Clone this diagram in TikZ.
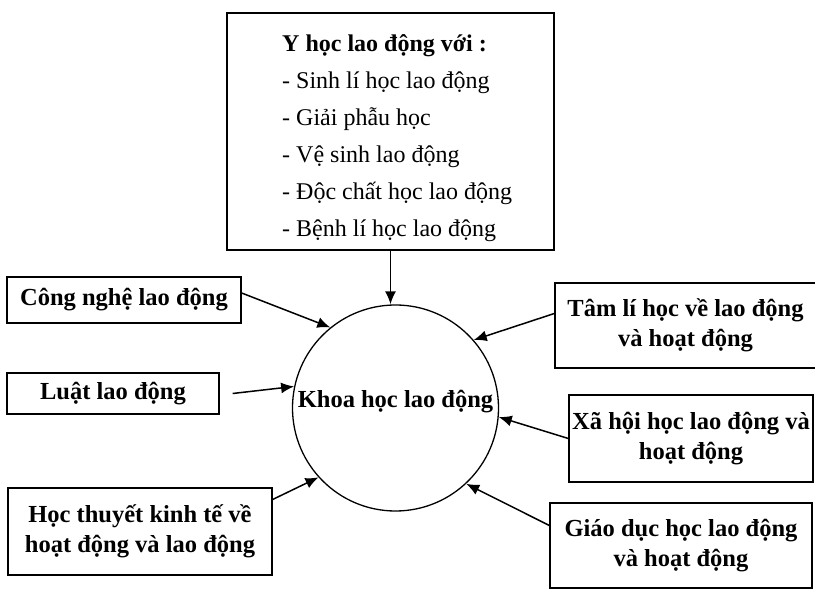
\documentclass[tikz,border=0pt]{standalone}
\usepackage{fontspec}
\setmainfont{Liberation Serif}
\usetikzlibrary{arrows.meta}
\begin{document}
\begin{tikzpicture}[x=1pt,y=-1pt,
  box/.style={draw, line width=1.3pt, inner sep=0pt, align=center,
    font=\fontsize{24.5}{30}\selectfont\bfseries},
  arr/.style={line width=1.5pt, -{Latex[length=13pt,width=11pt]}}]
\useasboundingbox (0,0) rectangle (815,593);
% top box
\node[draw, line width=1.3pt, minimum width=327pt, minimum height=237pt, inner sep=0pt] (top) at (390.5,131.5) {};
\node[anchor=west, align=left, inner sep=0pt, font=\fontsize{24}{37}\selectfont] (toptext) at (282,138)
  {\textbf{Y học lao động với :}\\- Sinh lí học lao động\\- Giải phẫu học\\- Vệ sinh lao động\\- Độc chất học lao động\\- Bệnh lí học lao động};
% circle
\node[draw, circle, line width=1.3pt, minimum size=206pt, inner sep=0pt] (khoa) at (395.5,408) {};
\node[inner sep=0pt, font=\fontsize{24.5}{30}\selectfont\bfseries] (khoatext) at (395.5,402) {Khoa học lao động};
% boxes
\node[box, minimum width=234pt, minimum height=46pt] (cong) at (124,300) {Công nghệ lao động};
\node[box, minimum width=212pt, minimum height=41pt] (luat) at (113,393.5) {Luật lao động};
\node[box, minimum width=264pt, minimum height=87pt] (hoc) at (140,531.5) {Học thuyết kinh tế về\\hoạt động và lao động};
\node[box, minimum width=261pt, minimum height=85pt] (tamli) at (685.5,325.5) {Tâm lí học về lao động\\và hoạt động};
\node[box, minimum width=244pt, minimum height=87pt] (xahoi) at (691,438.5) {Xã hội học lao động và\\hoạt động};
\node[box, minimum width=262pt, minimum height=85pt] (giao) at (681,545.5) {Giáo dục học lao động\\và hoạt động};
% arrows
\draw[arr] (top.south) -- (top.south |- khoa.north);
\draw[arr] ([yshift=7pt]cong.east) -- (khoa.129);
\draw[arr] ([xshift=13pt]luat.east) -- (khoa.168);
\draw[arr] ([yshift=32pt]hoc.east) -- (khoa.222);
\draw[arr] ([yshift=12pt]tamli.west) -- (khoa.41);
\draw[arr] (xahoi.west) -- (khoa.-5);
\draw[arr] ([yshift=20pt]giao.west) -- (khoa.-47);
\end{tikzpicture}
\end{document}
